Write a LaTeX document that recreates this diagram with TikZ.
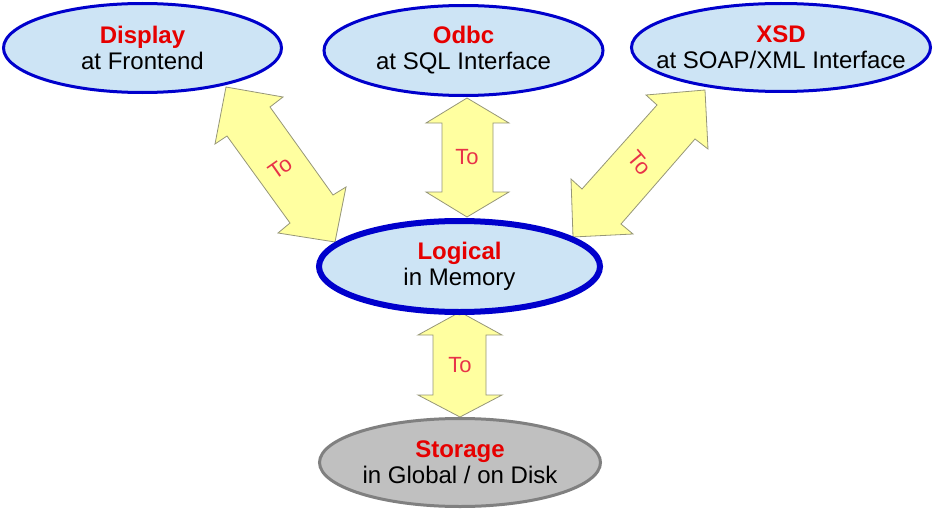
\documentclass[tikz,border=0pt]{standalone}
\usepackage{fontspec}
\setmainfont{Liberation Sans}
\usetikzlibrary{shapes.geometric}
\definecolor{ellfill}{RGB}{205,228,245}
\definecolor{ellblue}{RGB}{0,0,204}
\definecolor{stfill}{RGB}{192,192,192}
\definecolor{stline}{RGB}{128,128,128}
\definecolor{titlered}{RGB}{230,0,0}
\definecolor{tored}{RGB}{232,50,72}
\definecolor{arrfill}{RGB}{255,255,160}
\definecolor{arrline}{RGB}{150,150,120}
\tikzset{
  ell/.style={ellipse, draw=ellblue, fill=ellfill, line width=3pt, inner sep=0pt},
  logell/.style={ell, line width=6pt},
  stell/.style={ell, draw=stline, fill=stfill},
  elltext/.style={align=center, inner sep=0pt, font=\fontsize{24}{26}\selectfont},
  blockarrow/.style={fill=arrfill, draw=arrline, line width=0.8pt, line join=miter},
  tolabel/.style={text=tored, font=\fontsize{22}{24}\selectfont, inner sep=0pt}
}
\begin{document}
\begin{tikzpicture}[x=1pt,y=-1pt]
\useasboundingbox (0,0) rectangle (934,511);
% block arrows
\draw[blockarrow] (226,87) -- (283,97) -- (270,107) -- (333,195) -- (346,187) -- (335,242)
  -- (278,233) -- (290,223) -- (227,136) -- (215,144) -- cycle;
\draw[blockarrow] (467,98) -- (509,123) -- (493,123) -- (493,192) -- (509,192) -- (467,217)
  -- (426,192) -- (442,192) -- (442,123) -- (426,123) -- cycle;
\draw[blockarrow] (705,90) -- (708,149) -- (695,139) -- (621,224) -- (633,234) -- (573,237)
  -- (571,179) -- (582,189) -- (657,105) -- (646,95) -- cycle;
\draw[blockarrow] (460,312) -- (502,335) -- (486,335) -- (486,395) -- (502,395) -- (460,417)
  -- (418,395) -- (433,395) -- (433,335) -- (418,335) -- cycle;
% labels on arrows
\node[tolabel, rotate=35] (t1) at (280,168) {To};
\node[tolabel] (t2) at (467,157) {To};
\node[tolabel, rotate=-50] (t3) at (640,163) {To};
\node[tolabel] (t4) at (460,365) {To};
% ellipses
\node[ell, minimum width=278pt, minimum height=89pt] (display) at (142.5,48) {};
\node[elltext] (displayt) at (display) {{\color{titlered}\bfseries Display}\\at Frontend};
\node[ell, minimum width=279pt, minimum height=90pt] (odbc) at (463.5,50.5) {};
\node[elltext] (odbct) at (odbc) {{\color{titlered}\bfseries Odbc}\\at SQL Interface};
\node[ell, minimum width=299pt, minimum height=88pt] (xsd) at (781,47.5) {};
\node[elltext] (xsdt) at (xsd) {{\color{titlered}\bfseries XSD}\\at SOAP/XML Interface};
\node[logell, minimum width=281pt, minimum height=91pt] (logical) at (459.5,266.5) {};
\node[elltext] (logicalt) at (logical) {{\color{titlered}\bfseries Logical}\\in Memory};
\node[stell, minimum width=281pt, minimum height=88pt] (storage) at (460,462.5) {};
\node[elltext] (storaget) at (storage) {{\color{titlered}\bfseries Storage}\\in Global / on Disk};
\end{tikzpicture}
\end{document}
